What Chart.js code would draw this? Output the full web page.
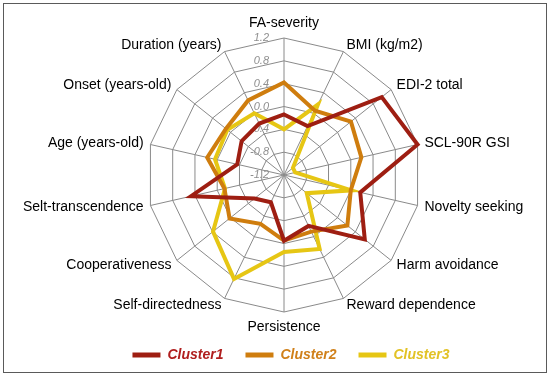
<!DOCTYPE html>
<html><head><meta charset="utf-8">
<script src="https://cdn.jsdelivr.net/npm/chart.js@4/dist/chart.umd.min.js"></script>
<style>html,body{margin:0;padding:0;background:#fff}#wrap{width:550px;height:376px}</style>
</head><body><div id="wrap"><canvas id="c" width="550" height="376"></canvas></div>
<script>
const categories = ["FA-severity","BMI (kg/m2)","EDI-2 total","SCL-90R GSI","Novelty seeking","Harm avoidance","Reward dependence","Persistence","Self-directedness","Cooperativeness","Selt-transcendence","Age (years-old)","Onset (years-old)","Duration (years)"];
const seriesNames = ["Cluster1","Cluster2","Cluster3"];
const cluster1 = [-0.14,-0.25,0.99,1.2,0.17,0.61,-0.21,-0.05,-0.67,-0.54,0.47,-0.36,-0.25,-0.2];
const cluster2 = [0.42,0.05,0.30,0.19,0.0,0.22,-0.10,-0.05,-0.25,0.02,-0.13,0.18,0.10,0.25];
const cluster3 = [-0.40,0.17,-1.0,-1.0,0.01,-0.69,0.24,0.15,0.82,0.39,-0.14,0.04,0.07,0.0];
const tickValues = [1.2,0.8,0.4,0.0,-0.4,-0.8,-1.2];

const lineColors = ["#9e1e12","#cf7d0e","#e6c614"];
const textColors = ["#b01e1e","#d0801a","#e2c225"];
const allSeries = [cluster1, cluster2, cluster3];

// radar placement (layout, not data)
const RADAR = { cx: 284, cy: 175, r: 137 };
const LABEL_GAP = 7;
const FONT = '"Liberation Sans", Arial, sans-serif';

const radarPlugin = {
  id: 'radarLayout',
  afterLayout(chart) {
    const s = chart.scales.r;
    s.xCenter = RADAR.cx;
    s.yCenter = RADAR.cy;
    s.drawingArea = RADAR.r;
  },
  beforeDraw(chart) {
    const c = chart.ctx;
    c.save();
    c.fillStyle = '#fff';
    c.fillRect(0, 0, chart.width, chart.height);
    c.strokeStyle = '#5a5a5a';
    c.lineWidth = 1;
    c.strokeRect(3.5, 3.5, chart.width - 7, chart.height - 7);
    c.restore();
  },
  beforeDatasetsDraw(chart) {
    const s = chart.scales.r;
    const c = chart.ctx;
    c.save();
    // tick labels, left of the vertical axis
    c.font = 'italic 11px ' + FONT;
    c.fillStyle = '#8f8f8f';
    c.textAlign = 'right';
    c.textBaseline = 'middle';
    tickValues.forEach(v => {
      const d = s.getDistanceFromCenterForValue(v);
      c.fillText(v.toFixed(1), s.xCenter - 15, s.yCenter - d);
    });
    // category labels
    c.font = '14px ' + FONT;
    c.fillStyle = '#000';
    const outer = s.getDistanceFromCenterForValue(s.max) + LABEL_GAP;
    categories.forEach((lab, i) => {
      const p = s.getPointPosition(i, outer);
      const deg = Math.round((i * 360 / categories.length) % 360);
      let y = p.y;
      if (deg === 0) { c.textAlign = 'center'; y -= 8; }
      else if (deg === 180) { c.textAlign = 'center'; y += 8; }
      else if (deg < 180) c.textAlign = 'left';
      else c.textAlign = 'right';
      c.textBaseline = 'middle';
      c.fillText(lab, p.x, y);
    });
    c.restore();
  }
};

new Chart(document.getElementById('c'), {
  type: 'radar',
  data: {
    labels: categories,
    datasets: allSeries.map((vals, i) => ({
      label: seriesNames[i],
      data: vals,
      borderColor: lineColors[i],
      backgroundColor: lineColors[i],
      borderWidth: 4,
      pointRadius: 0,
      pointHoverRadius: 0,
      fill: false,
      tension: 0,
      clip: false
    }))
  },
  options: {
    responsive: false,
    animation: false,
    events: [],
    layout: { padding: { top: 30, bottom: 4, left: 32, right: 0 } },
    scales: {
      r: {
        min: -1.2,
        max: 1.2,
        startAngle: 0,
        ticks: { stepSize: 0.4, display: false },
        grid: { color: '#8a8a8a', lineWidth: 1, circular: false },
        angleLines: { color: '#8a8a8a', lineWidth: 1 },
        pointLabels: { display: false }
      }
    },
    plugins: {
      tooltip: { enabled: false },
      legend: {
        position: 'bottom',
        labels: {
          boxWidth: 28,
          boxHeight: 5,
          padding: 22,
          font: { family: FONT, size: 14, style: 'italic', weight: 'bold' },
          generateLabels: (chart) => chart.data.datasets.map((ds, i) => ({
            text: ds.label,
            fillStyle: ds.borderColor,
            strokeStyle: ds.borderColor,
            lineWidth: 0,
            fontColor: textColors[i],
            hidden: false,
            datasetIndex: i
          }))
        }
      }
    }
  },
  plugins: [radarPlugin]
});
</script>
</body></html>
